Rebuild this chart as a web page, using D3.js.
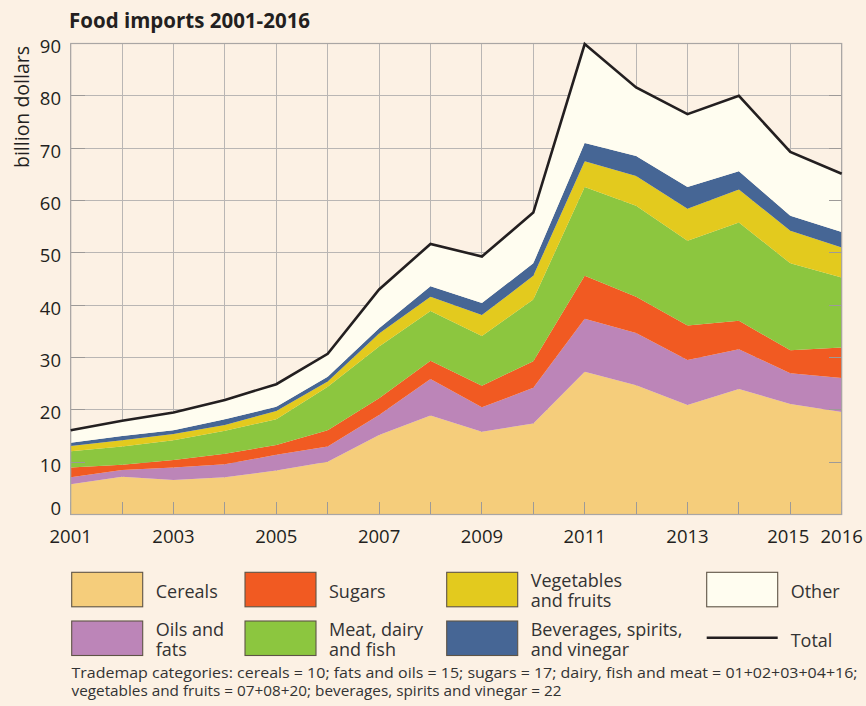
<!DOCTYPE html>
<html>
<head>
    <meta charset='utf-8'>
    <script src='https://d3js.org/d3.v7.min.js'></script>
    <title>Food imports 2001-2016</title>
</head>
<body>
<style>
    body {
        margin: 0;
        background: #fcf1e4;
        font-family: "Open Sans", "Noto Sans", sans-serif;
    }
    text { fill: #231f20; }
    .grid line { stroke: #b9b6b4; stroke-width: 1; shape-rendering: crispEdges; }
    .tick-in line { stroke: #9d9a98; stroke-width: 1; shape-rendering: crispEdges; }
</style>
<div id='chart'></div>
<script>

    // values, billion dollars
    const years   = [2001, 2002, 2003, 2004, 2005, 2006, 2007, 2008, 2009, 2010, 2011, 2012, 2013, 2014, 2015, 2016];
    const cereals = [5.8, 7.2, 6.6, 7.1, 8.4, 10.1, 15.2, 18.9, 15.8, 17.4, 27.3, 24.7, 20.9, 24.0, 21.1, 19.6];
    const oils    = [1.3, 1.3, 2.4, 2.5, 3.0, 2.9, 3.8, 7.0, 4.7, 6.8, 10.1, 10.0, 8.6, 7.6, 5.9, 6.5];
    const sugars  = [1.9, 1.0, 1.4, 2.0, 1.9, 3.1, 3.2, 3.5, 4.1, 5.1, 8.2, 6.9, 6.6, 5.4, 4.4, 5.8];
    const meat    = [3.1, 3.5, 3.8, 4.4, 4.9, 8.3, 9.9, 9.5, 9.5, 11.8, 17.0, 17.4, 16.2, 18.8, 16.6, 13.4];
    const veg     = [1.0, 1.2, 1.2, 1.1, 1.6, 1.0, 2.5, 2.7, 4.0, 4.5, 4.9, 5.7, 6.1, 6.3, 6.2, 5.7];
    const bev     = [0.6, 0.8, 0.7, 1.1, 0.8, 0.9, 1.0, 2.0, 2.3, 2.4, 3.5, 3.8, 4.2, 3.5, 2.9, 3.0];
    const other   = [2.4, 2.9, 3.4, 3.7, 4.3, 4.4, 7.4, 8.1, 8.9, 9.7, 18.9, 13.1, 13.9, 14.4, 12.2, 11.1];
    const total   = [16.1, 17.9, 19.5, 21.9, 24.9, 30.7, 43.0, 51.7, 49.3, 57.7, 89.9, 81.6, 76.5, 80.0, 69.3, 65.1];

    const xLabels = [2001, 2003, 2005, 2007, 2009, 2011, 2013, 2015, 2016];
    const yTicks  = [0, 10, 20, 30, 40, 50, 60, 70, 80, 90];

    const keys   = ['cereals', 'oils', 'sugars', 'meat', 'veg', 'bev', 'other'];
    const series = { cereals, oils, sugars, meat, veg, bev, other };
    const colors = {
        cereals: '#f5cd7b', oils: '#bc85b8', sugars: '#f15a22', meat: '#8cc63f',
        veg: '#e3ca1e', bev: '#466695', other: '#fffdf0'
    };
    const legendItems = [
        { key: 'cereals', label: ['Cereals'], col: 0, row: 0 },
        { key: 'sugars', label: ['Sugars'], col: 1, row: 0 },
        { key: 'veg', label: ['Vegetables', 'and fruits'], col: 2, row: 0 },
        { key: 'other', label: ['Other'], col: 3, row: 0 },
        { key: 'oils', label: ['Oils and', 'fats'], col: 0, row: 1 },
        { key: 'meat', label: ['Meat, dairy', 'and fish'], col: 1, row: 1 },
        { key: 'bev', label: ['Beverages, spirits,', 'and vinegar'], col: 2, row: 1 },
        { key: 'total', label: ['Total'], col: 3, row: 1 }
    ];
    const footnote = [
        'Trademap categories: cereals = 10; fats and oils = 15; sugars = 17; dairy, fish and meat = 01+02+03+04+16;',
        'vegetables and fruits = 07+08+20; beverages, spirits and vinegar = 22'
    ];

    const rows = years.map((yr, i) => {
        const r = { year: yr, total: total[i] };
        keys.forEach(k => r[k] = series[k][i]);
        return r;
    });

    const svg = d3.select('#chart').append('svg')
        .attr('width', 866)
        .attr('height', 706);

    const x = d3.scaleLinear().domain([2001, 2016]).range([70.7, 841.7]);
    const y = d3.scaleLinear().domain([0, 90]).range([514.5, 43.5]);

    // grid
    const grid = svg.append('g').attr('class', 'grid');
    grid.selectAll('.vx').data(years).enter().append('line')
        .attr('x1', d => x(d)).attr('x2', d => x(d))
        .attr('y1', y(0)).attr('y2', y(90));
    grid.selectAll('.hy').data(yTicks).enter().append('line')
        .attr('x1', x(2001)).attr('x2', x(2016))
        .attr('y1', d => y(d)).attr('y2', d => y(d));

    // stacked areas
    const stacked = d3.stack().keys(keys)(rows);
    const area = d3.area()
        .x(d => x(d.data.year))
        .y0(d => y(d[0]))
        .y1(d => y(d[1]));
    svg.append('g').selectAll('path').data(stacked).enter().append('path')
        .attr('d', area)
        .attr('fill', d => colors[d.key]);

    // inward ticks drawn over the fill
    const tin = svg.append('g').attr('class', 'tick-in');
    tin.selectAll('.b').data(years).enter().append('line')
        .attr('x1', d => x(d)).attr('x2', d => x(d))
        .attr('y1', y(0)).attr('y2', y(0) - 13);
    tin.selectAll('.l').data(yTicks).enter().append('line')
        .attr('x1', x(2001)).attr('x2', x(2001) + 14)
        .attr('y1', d => y(d)).attr('y2', d => y(d));
    tin.selectAll('.r').data(yTicks).enter().append('line')
        .attr('x1', x(2016)).attr('x2', x(2016) - 13)
        .attr('y1', d => y(d)).attr('y2', d => y(d));
    svg.append('rect')
        .attr('x', x(2001)).attr('y', y(90))
        .attr('width', x(2016) - x(2001)).attr('height', y(0) - y(90))
        .attr('fill', 'none').attr('stroke', '#a9a6a4').attr('stroke-width', 1.2);

    // total line
    const line = d3.line().x((d, i) => x(years[i])).y(d => y(d));
    svg.append('path')
        .attr('d', line(total))
        .attr('fill', 'none')
        .attr('stroke', '#231f20')
        .attr('stroke-width', 2.6)
        .attr('stroke-linejoin', 'miter');

    // axis labels
    svg.selectAll('.xl').data(xLabels).enter().append('text')
        .attr('x', d => x(d) + (d === 2015 ? -2 : 0))
        .attr('y', 543)
        .attr('text-anchor', 'middle')
        .style('font-size', '18.5px')
        .text(d => d);
    svg.selectAll('.yl').data(yTicks).enter().append('text')
        .attr('x', 61)
        .attr('y', d => d === 0 ? y(0) + 0.5 : y(d) + 9.5)
        .attr('text-anchor', 'end')
        .style('font-size', '18.5px')
        .text(d => d);

    svg.append('text')
        .attr('transform', 'translate(29,107) rotate(-90)')
        .attr('text-anchor', 'middle')
        .style('font-size', '19.5px')
        .text('billion dollars');

    svg.append('text')
        .attr('x', 69).attr('y', 27.5)
        .style('font-size', '20.5px')
        .style('font-weight', 'bold')
        .text('Food imports 2001-2016');

    // legend
    const colX = [71.7, 245, 446.7, 706.7];
    const rowY = [572.3, 621];
    const leg = svg.append('g');
    legendItems.forEach(it => {
        const gx = colX[it.col], gy = rowY[it.row];
        if (it.key === 'total') {
            leg.append('line')
                .attr('x1', gx).attr('x2', gx + 71)
                .attr('y1', gy + 16.7).attr('y2', gy + 16.7)
                .attr('stroke', '#231f20').attr('stroke-width', 2.6);
        } else {
            leg.append('rect')
                .attr('x', gx).attr('y', gy)
                .attr('width', 71).attr('height', 34.5)
                .attr('fill', colors[it.key])
                .attr('stroke', '#5e5446').attr('stroke-width', 1.1);
        }
        const y0 = it.label.length === 1 ? gy + 26 : gy + 14.5;
        it.label.forEach((s, i) => {
            leg.append('text')
                .attr('x', gx + 84)
                .attr('y', y0 + i * 20)
                .style('font-size', '18px')
                .style('fill', '#333')
                .text(s);
        });
    });

    const fnWidth = [786, 490];
    svg.selectAll('.fn').data(footnote).enter().append('text')
        .attr('x', 71.5)
        .attr('y', (d, i) => 678 + i * 18)
        .attr('textLength', (d, i) => fnWidth[i])
        .attr('lengthAdjust', 'spacingAndGlyphs')
        .style('font-size', '14.2px')
        .style('fill', '#333')
        .text(d => d);

</script>
</body>
</html>
